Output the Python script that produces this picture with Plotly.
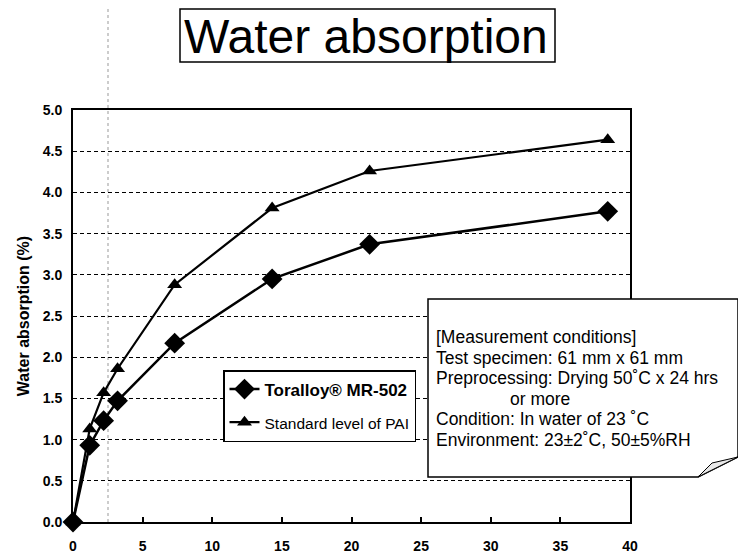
import plotly.graph_objects as go

# ---- data ----
time_days = [0, 1.2, 2.2, 3.2, 7.3, 14.3, 21.3, 38.4]
mr502 = [0, 0.93, 1.23, 1.47, 2.17, 2.95, 3.37, 3.77]
pai = [0, 1.13, 1.57, 1.86, 2.88, 3.81, 4.26, 4.64]
series_names = ["Toralloy® MR-502", "Standard level of PAI"]
x_ticks = [0, 5, 10, 15, 20, 25, 30, 35, 40]
y_ticks = [0, 0.5, 1.0, 1.5, 2.0, 2.5, 3.0, 3.5, 4.0, 4.5, 5.0]
y_tick_labels = ["0.0", "0.5", "1.0", "1.5", "2.0", "2.5", "3.0", "3.5", "4.0", "4.5", "5.0"]
title_text = "Water absorption"
y_title = "Water absorption (%)"
note_lines = [
    "[Measurement conditions]",
    "Test specimen: 61 mm x 61 mm",
    "Preprocessing: Drying 50˚C x 24 hrs",
    "or more",
    "Condition: In water of 23 ˚C",
    "Environment: 23±2˚C, 50±5%RH",
]

# ---- geometry: page pixels (the page body has an 8px margin) ----
OFF = 8
W, H = 746 - OFF, 554 - OFF
L, R, T, B = 73, 630, 110, 522   # plot area in page pixels


def px(x):
    return (x - L) / (R - L)


def py(y):
    return (B - y) / (B - T)


fig = go.Figure()
fig.add_trace(go.Scatter(
    x=time_days, y=mr502, name="<b>" + series_names[0] + "</b>", legendgroup="a",
    mode="lines+markers", line=dict(color="black", width=2.5),
    marker=dict(symbol="diamond", size=16, color="black"), cliponaxis=False))
fig.add_trace(go.Scatter(
    x=time_days, y=pai, name="<span style='font-size:15.5px'>" + series_names[1] + "</span>",
    legendgroup="b",
    mode="lines+markers", line=dict(color="black", width=2.2),
    marker=dict(symbol="triangle-up", size=13, color="black"), cliponaxis=False))

font_family = "Arial, Liberation Sans, sans-serif"

fig.update_layout(
    width=W, height=H,
    margin=dict(l=L - OFF, r=W - (R - OFF), t=T - OFF, b=H - (B - OFF), pad=0, autoexpand=False),
    paper_bgcolor="white", plot_bgcolor="white",
    font=dict(family=font_family, color="black"),
    showlegend=True,
    legend=dict(
        x=px(223), y=py(370), xanchor="left", yanchor="top",
        bgcolor="white", bordercolor="black", borderwidth=1.5,
        font=dict(size=17, family=font_family, color="black"),
        tracegroupgap=8, itemwidth=30,
    ),
    xaxis=dict(
        range=[0, 40], tickmode="array", tickvals=x_ticks,
        ticktext=[str(v) for v in x_ticks],
        showgrid=False, zeroline=False, automargin=False,
        showline=True, linecolor="black", linewidth=2, mirror=True,
        ticks="inside", ticklen=5, tickwidth=1.5, tickcolor="black",
        tickfont=dict(size=14, family=font_family, color="black", weight="bold"),
        ticklabelstandoff=10,
    ),
    yaxis=dict(
        range=[0, 5], tickmode="array", tickvals=y_ticks, ticktext=y_tick_labels,
        showgrid=True, gridcolor="black", griddash="4px,3px", gridwidth=1,
        zeroline=False, automargin=False,
        showline=True, linecolor="black", linewidth=2, mirror=True,
        ticks="", tickfont=dict(size=14, family=font_family, color="black", weight="bold"),
        ticklabelstandoff=6,
        title=dict(text="<b>" + y_title + "</b>", font=dict(size=16, family=font_family), standoff=9),
    ),
)

shapes = []
# faint scan fold line
shapes.append(dict(type="line", xref="paper", yref="paper",
                   x0=px(108), x1=px(108), y0=py(522), y1=py(OFF),
                   line=dict(color="#999999", width=1, dash="dot"), layer="below"))
# title box
shapes.append(dict(type="rect", xref="paper", yref="paper",
                   x0=px(180), x1=px(555), y0=py(62), y1=py(9),
                   line=dict(color="black", width=1.5), fillcolor="white", layer="above"))
# note box with folded corner
bx0, by0, bx1, by1 = 428, 299, 738, 477
cx, cy = 698, 457
path = "M {} {} L {} {} L {} {} L {} {} L {} {} Z".format(
    px(bx0), py(by0), px(bx1), py(by0), px(bx1), py(cy), px(cx), py(by1), px(bx0), py(by1))
shapes.append(dict(type="path", xref="paper", yref="paper", path=path,
                   line=dict(color="black", width=1.5), fillcolor="white", layer="above"))
curl = "M {} {} L {} {} L {} {} Z".format(px(bx1), py(cy), px(cx), py(by1), px(712), py(463))
shapes.append(dict(type="path", xref="paper", yref="paper", path=curl,
                   line=dict(color="black", width=1), fillcolor="#e8e8e8", layer="above"))
fig.update_layout(shapes=shapes)

# title
fig.add_annotation(xref="paper", yref="paper", x=px(366), y=py(37),
                   text=title_text, showarrow=False, xanchor="center", yanchor="middle",
                   font=dict(size=48, family=font_family, color="black"))

# note text
line_y = [337, 358, 378, 399, 419, 440]
for txt, yy in zip(note_lines, line_y):
    if txt == "or more":
        fig.add_annotation(xref="paper", yref="paper", x=px(540), y=py(yy), text=txt,
                           showarrow=False, xanchor="center", yanchor="middle",
                           font=dict(size=17.5, family=font_family, color="black"))
    else:
        fig.add_annotation(xref="paper", yref="paper", x=px(434), y=py(yy), text=txt,
                           showarrow=False, xanchor="left", yanchor="middle",
                           font=dict(size=17.5, family=font_family, color="black"))

fig.write_html("out.html")
